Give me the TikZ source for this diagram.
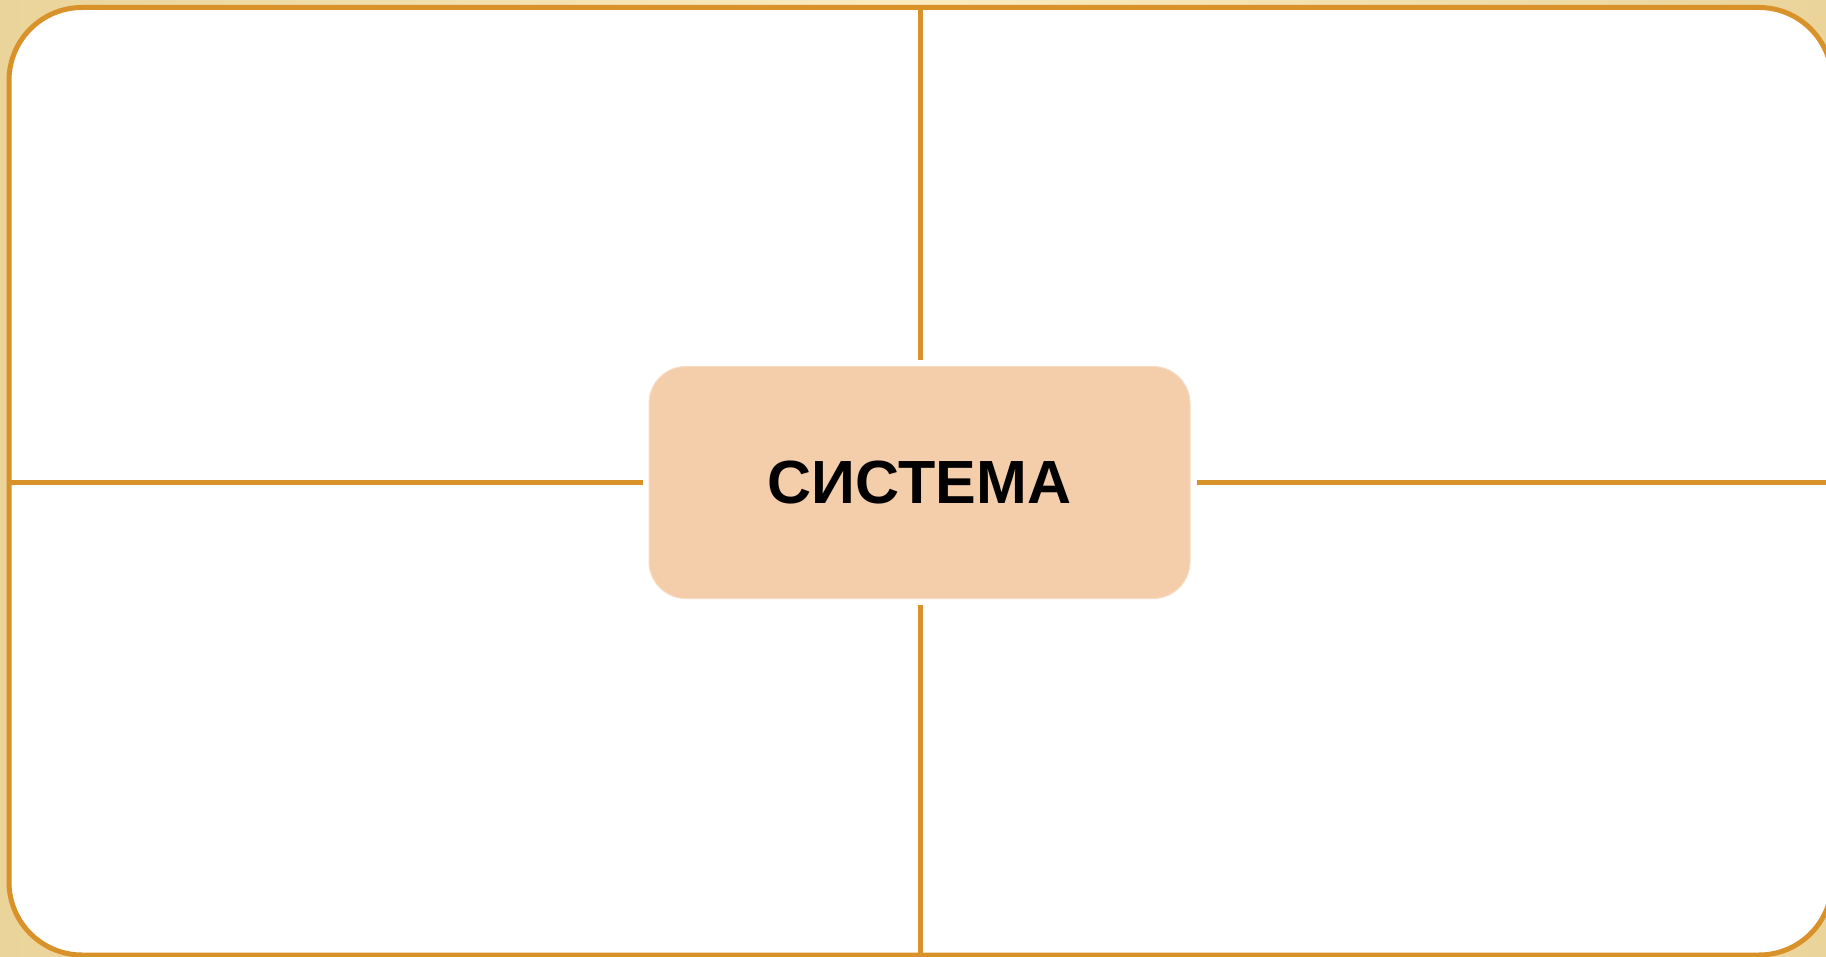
\documentclass[tikz,border=0pt]{standalone}
\usepackage{fontspec}
\setmainfont{Liberation Sans}
\definecolor{frame}{HTML}{D9912A}
\definecolor{peach}{HTML}{F4CDAA}
\definecolor{bgA}{HTML}{FBEBC0}
\definecolor{bgB}{HTML}{EAD49A}
\begin{document}
\begin{tikzpicture}[x=1pt,y=-1pt,
  divider/.style={draw=frame,line width=5pt},
  centerbox/.style={fill=peach,draw=peach!70!white,line width=1pt,rounded corners=37pt,
    minimum width=541pt,minimum height=232pt,inner sep=0pt,
    font=\fontsize{61}{61}\selectfont\bfseries}]
\useasboundingbox (0,0) rectangle (1826,957);
\begin{scope}
\clip (0,0) rectangle (1826,957);
\shade[left color=bgB,right color=bgB,middle color=bgA] (0,0) rectangle (1826,957);
\filldraw[fill=white,draw=frame,line width=5pt,rounded corners=73pt] (9,7.5) rectangle (1832,955);
\node[centerbox] (sys) at (919.5,482.5) {СИСТЕМА};
\coordinate (top) at (920,7.5);
\coordinate (bot) at (920,955);
\coordinate (lft) at (9,482);
\coordinate (rgt) at (1832,482);
\draw[divider] (top) -- ([yshift=6pt]sys.north -| top);
\draw[divider] ([yshift=-6pt]sys.south -| bot) -- (bot);
\draw[divider] (lft) -- ([xshift=-6pt]sys.west |- lft);
\draw[divider] ([xshift=6pt]sys.east |- rgt) -- (rgt);
\end{scope}
\end{tikzpicture}
\end{document}
